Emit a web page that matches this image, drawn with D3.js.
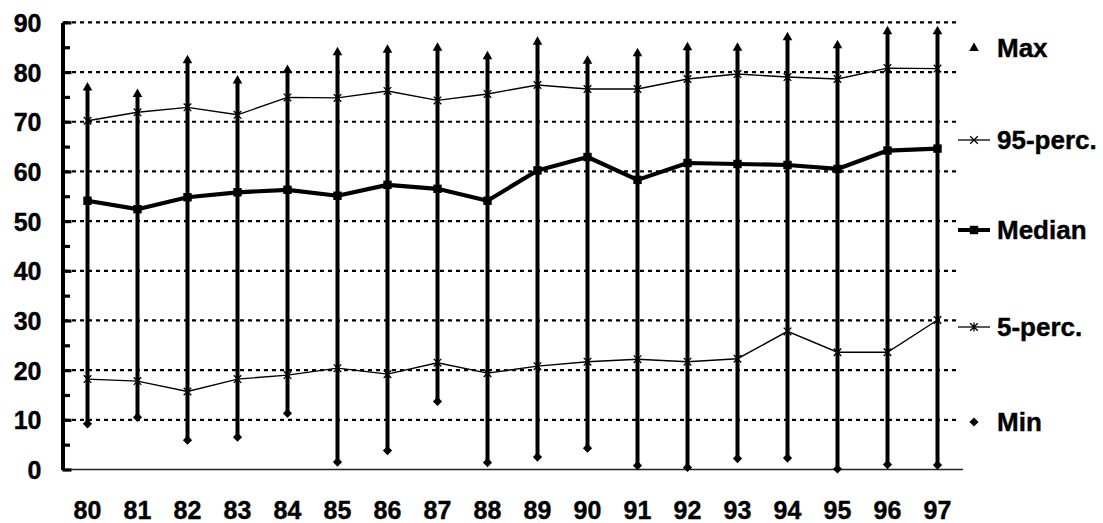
<!DOCTYPE html>
<html>
<head>
<meta charset="utf-8">
<script src="https://cdn.jsdelivr.net/npm/d3@7"></script>
<style>
  html, body { margin: 0; padding: 0; background: #fff; }
  svg { display: block; }
  text { font-family: "Liberation Sans", Arial, sans-serif; font-weight: bold; fill: #000; stroke: #000; stroke-width: 0.4px; }
</style>
</head>
<body>
<svg id="chart" width="1103" height="523"></svg>
<script>
// ---- data ----
const years = ["80","81","82","83","84","85","86","87","88","89","90","91","92","93","94","95","96","97"];
const maxVals    = [76.9, 75.6, 82.4, 78.3, 80.4, 84.0, 84.5, 84.9, 83.2, 86.1, 82.3, 83.8, 85.0, 84.9, 87.0, 85.4, 88.2, 88.2];
const p95Vals    = [70.2, 71.9, 72.9, 71.4, 74.9, 74.8, 76.2, 74.3, 75.6, 77.4, 76.6, 76.6, 78.6, 79.6, 79.0, 78.6, 80.8, 80.7];
const medianVals = [54.1, 52.4, 54.8, 55.8, 56.3, 55.1, 57.3, 56.5, 54.1, 60.2, 62.9, 58.3, 61.7, 61.5, 61.3, 60.5, 64.2, 64.6];
const p5Vals     = [18.2, 17.8, 15.7, 18.2, 19.0, 20.4, 19.2, 21.5, 19.4, 20.8, 21.7, 22.2, 21.7, 22.3, 27.8, 23.6, 23.6, 30.1];
const minVals    = [9.2, 10.5, 5.9, 6.5, 11.3, 1.5, 3.8, 13.7, 1.4, 2.5, 4.3, 0.8, 0.4, 2.2, 2.3, 0.1, 1.0, 0.9];
const yTicks = [0, 10, 20, 30, 40, 50, 60, 70, 80, 90];
const yMinorTicks = [5, 15, 25, 35, 45, 55, 65, 75, 85];
const legendNames = ["Max", "95-perc.", "Median", "5-perc.", "Min"];

// ---- layout ----
const svg = d3.select("#chart");
const x = d3.scaleBand().domain(years).range([62.5, 962.5]).padding(0);
const cx = d => x(d) + x.bandwidth() / 2;
const y = d3.scaleLinear().domain([0, 90]).range([469.5, 22.4]);

// gridlines
svg.append("g").selectAll("line").data(yTicks.filter(v => v > 0)).join("line")
  .attr("x1", 64).attr("x2", 960)
  .attr("y1", d => y(d)).attr("y2", d => y(d))
  .attr("stroke", "#000").attr("stroke-width", 2.2).attr("stroke-dasharray", "4,4");

// x axis (baseline + labels)
const xAxis = svg.append("g").attr("transform", `translate(0,${y(0)})`)
  .call(d3.axisBottom(x).tickSize(0).tickSizeOuter(0).tickPadding(32));
xAxis.select(".domain").attr("stroke", "#222").attr("stroke-width", 1.5)
  .attr("d", `M62.5,0H963`);
xAxis.selectAll("text").attr("font-size", 25).attr("fill", "#000");

// y axis
const yAxis = svg.append("g").attr("transform", "translate(62.5,0)")
  .call(d3.axisLeft(y).tickValues(yTicks).tickSizeInner(-9).tickSizeOuter(0).tickPadding(21));
yAxis.select(".domain").attr("stroke", "#000").attr("stroke-width", 4);
yAxis.selectAll(".tick line").attr("stroke", "#000").attr("stroke-width", 3.2);
yAxis.selectAll("text").attr("font-size", 25).attr("dy", "0.36em").attr("fill", "#000");
const yMinor = svg.append("g").attr("transform", "translate(62.5,0)")
  .call(d3.axisLeft(y).tickValues(yMinorTicks).tickSizeInner(-7.5).tickSizeOuter(0).tickFormat(""));
yMinor.select(".domain").remove();
yMinor.selectAll(".tick line").attr("stroke", "#000").attr("stroke-width", 3.2);

// marker drawing
function marker(g, type, px, py) {
  if (type === "tri") {
    g.append("path").attr("d", `M${px},${py-5.5}L${px+4.8},${py+3}L${px-4.8},${py+3}Z`).attr("fill", "#000");
  } else if (type === "dia") {
    g.append("path").attr("d", `M${px},${py-4.6}L${px+4.6},${py}L${px},${py+4.6}L${px-4.6},${py}Z`).attr("fill", "#000");
  } else if (type === "sq") {
    g.append("rect").attr("x", px-4.2).attr("y", py-4.2).attr("width", 8.4).attr("height", 8.4).attr("fill", "#000");
  } else if (type === "x") {
    g.append("path").attr("d", `M${px-3.8},${py-3.8}L${px+3.8},${py+3.8}M${px-3.8},${py+3.8}L${px+3.8},${py-3.8}`)
      .attr("stroke", "#000").attr("stroke-width", 1.3);
  } else if (type === "ast") {
    g.append("path").attr("d", `M${px-3.8},${py-3.8}L${px+3.8},${py+3.8}M${px-3.8},${py+3.8}L${px+3.8},${py-3.8}M${px},${py-4.5}L${px},${py+4.5}`)
      .attr("stroke", "#000").attr("stroke-width", 1.3);
  }
}

// high-low lines
svg.append("g").selectAll("line").data(years).join("line")
  .attr("x1", cx).attr("x2", cx)
  .attr("y1", (d, i) => y(minVals[i])).attr("y2", (d, i) => y(maxVals[i]))
  .attr("stroke", "#000").attr("stroke-width", 4);

const line = d3.line().x((d, i) => cx(years[i])).y(d => y(d));

svg.append("path").datum(p95Vals).attr("d", line).attr("fill", "none").attr("stroke", "#000").attr("stroke-width", 1.4);
svg.append("path").datum(p5Vals).attr("d", line).attr("fill", "none").attr("stroke", "#000").attr("stroke-width", 1.4);
svg.append("path").datum(medianVals).attr("d", line).attr("fill", "none").attr("stroke", "#000").attr("stroke-width", 4.2).attr("stroke-linejoin", "round");

const mk = svg.append("g");
years.forEach((yr, i) => {
  marker(mk, "tri", cx(yr), y(maxVals[i]));
  marker(mk, "dia", cx(yr), y(minVals[i]));
  marker(mk, "x", cx(yr), y(p95Vals[i]));
  marker(mk, "ast", cx(yr), y(p5Vals[i]));
  marker(mk, "sq", cx(yr), y(medianVals[i]));
});

// legend
const legendTypes = ["tri", "x", "sq", "ast", "dia"];
const legendLines = [false, 1.3, 4, 1.3, false];
const legendY = [48, 140, 230, 327, 422];
const lg = svg.append("g");
legendNames.forEach((name, i) => {
  const ly = legendY[i];
  if (legendLines[i]) {
    lg.append("line").attr("x1", 958).attr("x2", 990).attr("y1", ly).attr("y2", ly)
      .attr("stroke", "#000").attr("stroke-width", legendLines[i]);
  }
  marker(lg, legendTypes[i], 974, ly);
  lg.append("text").attr("x", 997).attr("y", ly).attr("dy", "0.36em").attr("font-size", 26).text(name);
});
</script>
</body>
</html>
